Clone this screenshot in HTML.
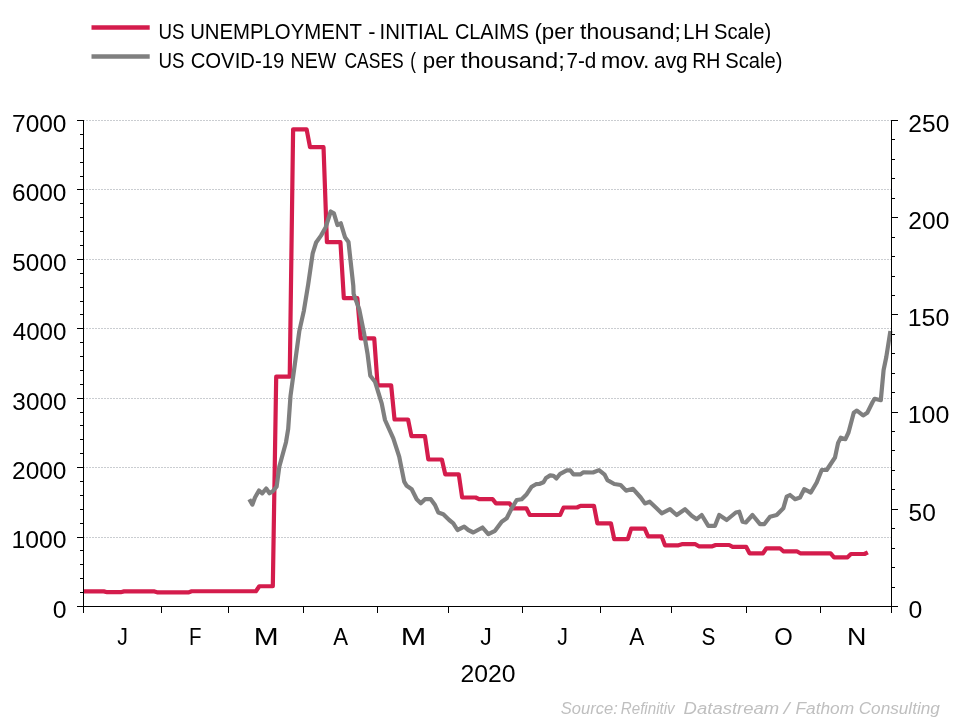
<!DOCTYPE html>
<html><head><meta charset="utf-8"><style>
html,body{margin:0;padding:0;background:#fff;width:960px;height:720px;overflow:hidden}
svg{display:block}
</style></head><body>
<svg width="960" height="720" viewBox="0 0 960 720">
<rect width="960" height="720" fill="#fff"/>
<line x1="83" y1="537.50" x2="891" y2="537.50" stroke="#CACDD1" stroke-width="1" stroke-dasharray="2 1"/>
<line x1="83" y1="467.50" x2="891" y2="467.50" stroke="#CACDD1" stroke-width="1" stroke-dasharray="2 1"/>
<line x1="83" y1="398.50" x2="891" y2="398.50" stroke="#CACDD1" stroke-width="1" stroke-dasharray="2 1"/>
<line x1="83" y1="328.50" x2="891" y2="328.50" stroke="#CACDD1" stroke-width="1" stroke-dasharray="2 1"/>
<line x1="83" y1="259.50" x2="891" y2="259.50" stroke="#CACDD1" stroke-width="1" stroke-dasharray="2 1"/>
<line x1="83" y1="189.50" x2="891" y2="189.50" stroke="#CACDD1" stroke-width="1" stroke-dasharray="2 1"/>
<line x1="83" y1="120.50" x2="891" y2="120.50" stroke="#CACDD1" stroke-width="1" stroke-dasharray="2 1"/>
<path d="M83.50,591.40 L103.78,591.40 L107.17,592.20 L120.69,592.20 L124.07,591.40 L154.50,591.40 L157.88,592.40 L188.30,592.40 L191.68,591.25 L255.92,591.25 L259.30,586.25 L272.82,586.25 L276.20,376.70 L289.73,376.70 L293.11,129.40 L306.63,129.40 L310.01,147.20 L323.53,147.20 L326.91,242.10 L340.44,242.10 L343.82,298.10 L357.34,298.10 L360.72,338.30 L374.24,338.30 L377.63,385.30 L391.15,385.30 L394.53,419.50 L408.05,419.50 L411.43,436.20 L424.96,436.20 L428.34,459.50 L441.86,459.50 L445.24,474.30 L458.76,474.30 L462.14,497.50 L475.67,497.50 L479.05,499.20 L492.57,499.20 L495.95,503.30 L509.47,503.30 L512.86,508.30 L526.38,508.30 L529.76,515.00 L560.19,515.00 L563.57,507.50 L577.09,507.50 L580.47,505.80 L593.99,505.80 L597.37,523.30 L610.90,523.30 L614.28,539.20 L627.80,539.20 L631.18,528.70 L644.71,528.70 L648.09,536.30 L661.61,536.30 L664.99,545.30 L678.51,545.30 L681.89,544.20 L695.42,544.20 L698.80,546.30 L712.32,546.30 L715.70,545.00 L729.22,545.00 L732.60,546.80 L746.13,546.80 L749.51,553.30 L763.03,553.30 L766.41,548.30 L779.94,548.30 L783.32,551.30 L796.84,551.30 L800.22,553.30 L830.65,553.30 L834.03,557.30 L847.55,557.30 L850.93,554.00 L864.45,554.00 L867.83,552.30" fill="none" stroke="#D41C4C" stroke-width="4.2" stroke-linejoin="round" stroke-linecap="butt"/>
<path d="M249.30,499.30 L252.40,504.60 L255.00,497.50 L259.00,490.50 L262.20,493.30 L266.20,488.50 L269.50,493.30 L273.00,491.00 L276.60,486.70 L279.30,466.70 L286.00,442.20 L288.20,428.90 L290.50,396.00 L296.00,355.60 L299.30,331.10 L303.80,311.10 L308.20,284.40 L312.70,253.30 L316.10,242.50 L321.00,235.60 L325.60,227.50 L330.70,211.50 L333.90,213.30 L337.40,225.00 L340.80,223.30 L345.00,237.20 L348.50,242.00 L353.30,285.80 L353.60,293.90 L359.20,309.20 L364.00,332.80 L367.50,353.60 L370.30,375.80 L375.00,381.70 L381.70,403.30 L385.00,420.00 L393.30,438.30 L399.20,456.70 L404.20,481.70 L406.70,485.80 L411.70,489.20 L416.70,499.20 L420.80,503.30 L425.00,499.20 L430.80,499.20 L435.00,505.00 L438.30,512.50 L443.30,514.20 L449.20,520.00 L453.30,523.30 L457.50,530.00 L464.20,526.70 L468.30,530.00 L473.30,532.50 L482.50,527.50 L488.30,534.20 L495.00,530.80 L501.70,521.70 L506.70,518.30 L511.70,508.30 L516.70,500.00 L521.70,499.20 L526.70,494.20 L531.70,486.70 L536.00,484.20 L539.30,484.00 L543.50,482.30 L546.00,478.00 L550.20,475.40 L553.50,475.80 L556.40,478.50 L560.20,473.80 L566.80,470.30 L570.20,470.30 L573.50,474.40 L580.20,474.40 L583.50,472.30 L593.00,472.50 L599.00,470.10 L604.60,474.60 L607.40,480.10 L614.30,484.00 L620.60,485.00 L626.10,490.60 L633.00,488.80 L640.70,497.50 L644.90,503.40 L649.70,501.70 L655.80,507.50 L661.70,513.30 L670.00,509.20 L676.70,515.00 L685.00,509.20 L691.70,515.80 L696.70,519.20 L701.70,515.00 L708.30,525.80 L715.00,525.80 L719.20,515.00 L726.70,520.00 L735.80,512.50 L739.20,511.70 L742.50,521.70 L745.80,522.50 L752.50,515.00 L760.00,524.20 L764.20,524.20 L770.00,516.70 L776.70,515.00 L783.30,508.30 L786.70,496.70 L790.00,495.00 L795.00,499.20 L800.00,497.50 L804.20,489.20 L810.80,492.50 L816.70,482.50 L821.70,470.00 L826.70,470.00 L835.00,457.50 L838.10,442.90 L840.80,437.70 L845.40,439.20 L848.50,432.50 L853.75,412.70 L856.90,410.60 L863.10,415.40 L867.30,412.70 L872.50,402.30 L874.60,398.75 L880.80,400.20 L883.60,370.00 L886.30,357.00 L890.40,331.00" fill="none" stroke="#7F7F7F" stroke-width="4.2" stroke-linejoin="round" stroke-linecap="butt"/>
<line x1="83.5" y1="120" x2="83.5" y2="613" stroke="#000" stroke-width="1"/>
<line x1="891.5" y1="120" x2="891.5" y2="613" stroke="#000" stroke-width="1"/>
<line x1="77" y1="606.5" x2="898" y2="606.5" stroke="#000" stroke-width="1"/>
<line x1="77" y1="606.5" x2="84" y2="606.5" stroke="#000" stroke-width="1"/>
<line x1="80" y1="592.5" x2="84" y2="592.5" stroke="#000" stroke-width="1"/>
<line x1="80" y1="578.5" x2="84" y2="578.5" stroke="#000" stroke-width="1"/>
<line x1="80" y1="564.5" x2="84" y2="564.5" stroke="#000" stroke-width="1"/>
<line x1="80" y1="550.5" x2="84" y2="550.5" stroke="#000" stroke-width="1"/>
<line x1="77" y1="537.5" x2="84" y2="537.5" stroke="#000" stroke-width="1"/>
<line x1="80" y1="523.5" x2="84" y2="523.5" stroke="#000" stroke-width="1"/>
<line x1="80" y1="509.5" x2="84" y2="509.5" stroke="#000" stroke-width="1"/>
<line x1="80" y1="495.5" x2="84" y2="495.5" stroke="#000" stroke-width="1"/>
<line x1="80" y1="481.5" x2="84" y2="481.5" stroke="#000" stroke-width="1"/>
<line x1="77" y1="467.5" x2="84" y2="467.5" stroke="#000" stroke-width="1"/>
<line x1="80" y1="453.5" x2="84" y2="453.5" stroke="#000" stroke-width="1"/>
<line x1="80" y1="439.5" x2="84" y2="439.5" stroke="#000" stroke-width="1"/>
<line x1="80" y1="425.5" x2="84" y2="425.5" stroke="#000" stroke-width="1"/>
<line x1="80" y1="412.5" x2="84" y2="412.5" stroke="#000" stroke-width="1"/>
<line x1="77" y1="398.5" x2="84" y2="398.5" stroke="#000" stroke-width="1"/>
<line x1="80" y1="384.5" x2="84" y2="384.5" stroke="#000" stroke-width="1"/>
<line x1="80" y1="370.5" x2="84" y2="370.5" stroke="#000" stroke-width="1"/>
<line x1="80" y1="356.5" x2="84" y2="356.5" stroke="#000" stroke-width="1"/>
<line x1="80" y1="342.5" x2="84" y2="342.5" stroke="#000" stroke-width="1"/>
<line x1="77" y1="328.5" x2="84" y2="328.5" stroke="#000" stroke-width="1"/>
<line x1="80" y1="314.5" x2="84" y2="314.5" stroke="#000" stroke-width="1"/>
<line x1="80" y1="301.5" x2="84" y2="301.5" stroke="#000" stroke-width="1"/>
<line x1="80" y1="287.5" x2="84" y2="287.5" stroke="#000" stroke-width="1"/>
<line x1="80" y1="273.5" x2="84" y2="273.5" stroke="#000" stroke-width="1"/>
<line x1="77" y1="259.5" x2="84" y2="259.5" stroke="#000" stroke-width="1"/>
<line x1="80" y1="245.5" x2="84" y2="245.5" stroke="#000" stroke-width="1"/>
<line x1="80" y1="231.5" x2="84" y2="231.5" stroke="#000" stroke-width="1"/>
<line x1="80" y1="217.5" x2="84" y2="217.5" stroke="#000" stroke-width="1"/>
<line x1="80" y1="203.5" x2="84" y2="203.5" stroke="#000" stroke-width="1"/>
<line x1="77" y1="189.5" x2="84" y2="189.5" stroke="#000" stroke-width="1"/>
<line x1="80" y1="176.5" x2="84" y2="176.5" stroke="#000" stroke-width="1"/>
<line x1="80" y1="162.5" x2="84" y2="162.5" stroke="#000" stroke-width="1"/>
<line x1="80" y1="148.5" x2="84" y2="148.5" stroke="#000" stroke-width="1"/>
<line x1="80" y1="134.5" x2="84" y2="134.5" stroke="#000" stroke-width="1"/>
<line x1="77" y1="120.5" x2="84" y2="120.5" stroke="#000" stroke-width="1"/>
<line x1="891" y1="606.5" x2="898" y2="606.5" stroke="#000" stroke-width="1"/>
<line x1="891" y1="587.5" x2="895" y2="587.5" stroke="#000" stroke-width="1"/>
<line x1="891" y1="567.5" x2="895" y2="567.5" stroke="#000" stroke-width="1"/>
<line x1="891" y1="548.5" x2="895" y2="548.5" stroke="#000" stroke-width="1"/>
<line x1="891" y1="528.5" x2="895" y2="528.5" stroke="#000" stroke-width="1"/>
<line x1="891" y1="509.5" x2="898" y2="509.5" stroke="#000" stroke-width="1"/>
<line x1="891" y1="489.5" x2="895" y2="489.5" stroke="#000" stroke-width="1"/>
<line x1="891" y1="470.5" x2="895" y2="470.5" stroke="#000" stroke-width="1"/>
<line x1="891" y1="450.5" x2="895" y2="450.5" stroke="#000" stroke-width="1"/>
<line x1="891" y1="431.5" x2="895" y2="431.5" stroke="#000" stroke-width="1"/>
<line x1="891" y1="412.5" x2="898" y2="412.5" stroke="#000" stroke-width="1"/>
<line x1="891" y1="392.5" x2="895" y2="392.5" stroke="#000" stroke-width="1"/>
<line x1="891" y1="373.5" x2="895" y2="373.5" stroke="#000" stroke-width="1"/>
<line x1="891" y1="353.5" x2="895" y2="353.5" stroke="#000" stroke-width="1"/>
<line x1="891" y1="334.5" x2="895" y2="334.5" stroke="#000" stroke-width="1"/>
<line x1="891" y1="314.5" x2="898" y2="314.5" stroke="#000" stroke-width="1"/>
<line x1="891" y1="295.5" x2="895" y2="295.5" stroke="#000" stroke-width="1"/>
<line x1="891" y1="276.5" x2="895" y2="276.5" stroke="#000" stroke-width="1"/>
<line x1="891" y1="256.5" x2="895" y2="256.5" stroke="#000" stroke-width="1"/>
<line x1="891" y1="237.5" x2="895" y2="237.5" stroke="#000" stroke-width="1"/>
<line x1="891" y1="217.5" x2="898" y2="217.5" stroke="#000" stroke-width="1"/>
<line x1="891" y1="198.5" x2="895" y2="198.5" stroke="#000" stroke-width="1"/>
<line x1="891" y1="178.5" x2="895" y2="178.5" stroke="#000" stroke-width="1"/>
<line x1="891" y1="159.5" x2="895" y2="159.5" stroke="#000" stroke-width="1"/>
<line x1="891" y1="139.5" x2="895" y2="139.5" stroke="#000" stroke-width="1"/>
<line x1="891" y1="120.5" x2="898" y2="120.5" stroke="#000" stroke-width="1"/>
<line x1="161.5" y1="606" x2="161.5" y2="613" stroke="#000" stroke-width="1"/>
<line x1="228.5" y1="606" x2="228.5" y2="613" stroke="#000" stroke-width="1"/>
<line x1="303.5" y1="606" x2="303.5" y2="613" stroke="#000" stroke-width="1"/>
<line x1="377.5" y1="606" x2="377.5" y2="613" stroke="#000" stroke-width="1"/>
<line x1="448.5" y1="606" x2="448.5" y2="613" stroke="#000" stroke-width="1"/>
<line x1="522.5" y1="606" x2="522.5" y2="613" stroke="#000" stroke-width="1"/>
<line x1="600.5" y1="606" x2="600.5" y2="613" stroke="#000" stroke-width="1"/>
<line x1="671.5" y1="606" x2="671.5" y2="613" stroke="#000" stroke-width="1"/>
<line x1="746.5" y1="606" x2="746.5" y2="613" stroke="#000" stroke-width="1"/>
<line x1="820.5" y1="606" x2="820.5" y2="613" stroke="#000" stroke-width="1"/>
<line x1="91.5" y1="27.4" x2="149.7" y2="27.4" stroke="#D41C4C" stroke-width="4.5"/>
<line x1="91.5" y1="56.5" x2="149.7" y2="56.5" stroke="#7F7F7F" stroke-width="4.5"/>
<g style="filter:grayscale(1)">
<text x="52.68" y="617.80" font-family="Liberation Sans, sans-serif" font-size="23.5" textLength="13.79" lengthAdjust="spacingAndGlyphs">0</text>
<text x="11.42" y="548.37" font-family="Liberation Sans, sans-serif" font-size="23.5" textLength="55.05" lengthAdjust="spacingAndGlyphs">1000</text>
<text x="12.07" y="478.94" font-family="Liberation Sans, sans-serif" font-size="23.5" textLength="54.38" lengthAdjust="spacingAndGlyphs">2000</text>
<text x="12.37" y="409.51" font-family="Liberation Sans, sans-serif" font-size="23.5" textLength="54.08" lengthAdjust="spacingAndGlyphs">3000</text>
<text x="12.75" y="340.09" font-family="Liberation Sans, sans-serif" font-size="23.5" textLength="53.70" lengthAdjust="spacingAndGlyphs">4000</text>
<text x="12.33" y="270.66" font-family="Liberation Sans, sans-serif" font-size="23.5" textLength="54.12" lengthAdjust="spacingAndGlyphs">5000</text>
<text x="12.06" y="201.23" font-family="Liberation Sans, sans-serif" font-size="23.5" textLength="54.40" lengthAdjust="spacingAndGlyphs">6000</text>
<text x="12.05" y="131.80" font-family="Liberation Sans, sans-serif" font-size="23.5" textLength="54.41" lengthAdjust="spacingAndGlyphs">7000</text>
<text x="908.63" y="617.80" font-family="Liberation Sans, sans-serif" font-size="23.5" textLength="13.79" lengthAdjust="spacingAndGlyphs">0</text>
<text x="908.62" y="520.60" font-family="Liberation Sans, sans-serif" font-size="23.5" textLength="27.24" lengthAdjust="spacingAndGlyphs">50</text>
<text x="907.70" y="423.40" font-family="Liberation Sans, sans-serif" font-size="23.5" textLength="41.62" lengthAdjust="spacingAndGlyphs">100</text>
<text x="907.70" y="326.20" font-family="Liberation Sans, sans-serif" font-size="23.5" textLength="41.62" lengthAdjust="spacingAndGlyphs">150</text>
<text x="908.37" y="229.00" font-family="Liberation Sans, sans-serif" font-size="23.5" textLength="40.94" lengthAdjust="spacingAndGlyphs">200</text>
<text x="908.37" y="131.80" font-family="Liberation Sans, sans-serif" font-size="23.5" textLength="40.94" lengthAdjust="spacingAndGlyphs">250</text>
<text x="117.17" y="644.5" font-family="Liberation Sans, sans-serif" font-size="23.5" textLength="10.67" lengthAdjust="spacingAndGlyphs">J</text>
<text x="189.07" y="644.5" font-family="Liberation Sans, sans-serif" font-size="23.5" textLength="12.50" lengthAdjust="spacingAndGlyphs">F</text>
<text x="253.80" y="644.5" font-family="Liberation Sans, sans-serif" font-size="23.5" textLength="24.91" lengthAdjust="spacingAndGlyphs">M</text>
<text x="333.21" y="644.5" font-family="Liberation Sans, sans-serif" font-size="23.5" textLength="14.84" lengthAdjust="spacingAndGlyphs">A</text>
<text x="400.74" y="644.5" font-family="Liberation Sans, sans-serif" font-size="23.5" textLength="25.53" lengthAdjust="spacingAndGlyphs">M</text>
<text x="480.14" y="644.5" font-family="Liberation Sans, sans-serif" font-size="23.5" textLength="11.58" lengthAdjust="spacingAndGlyphs">J</text>
<text x="557.17" y="644.5" font-family="Liberation Sans, sans-serif" font-size="23.5" textLength="10.67" lengthAdjust="spacingAndGlyphs">J</text>
<text x="629.21" y="644.5" font-family="Liberation Sans, sans-serif" font-size="23.5" textLength="15.09" lengthAdjust="spacingAndGlyphs">A</text>
<text x="701.55" y="644.5" font-family="Liberation Sans, sans-serif" font-size="23.5" textLength="13.90" lengthAdjust="spacingAndGlyphs">S</text>
<text x="774.37" y="644.5" font-family="Liberation Sans, sans-serif" font-size="23.5" textLength="18.52" lengthAdjust="spacingAndGlyphs">O</text>
<text x="847.05" y="644.5" font-family="Liberation Sans, sans-serif" font-size="23.5" textLength="19.39" lengthAdjust="spacingAndGlyphs">N</text>
<text x="460.46" y="682" font-family="Liberation Sans, sans-serif" font-size="23.5" textLength="55.01" lengthAdjust="spacingAndGlyphs">2020</text>
<text x="158.56" y="38.8" font-family="Liberation Sans, sans-serif" font-size="22" textLength="26.00" lengthAdjust="spacingAndGlyphs">US</text>
<text x="190.13" y="38.8" font-family="Liberation Sans, sans-serif" font-size="22" textLength="171.74" lengthAdjust="spacingAndGlyphs">UNEMPLOYMENT</text>
<text x="368.24" y="38.8" font-family="Liberation Sans, sans-serif" font-size="22" textLength="7.23" lengthAdjust="spacingAndGlyphs">-</text>
<text x="379.52" y="38.8" font-family="Liberation Sans, sans-serif" font-size="22" textLength="69.06" lengthAdjust="spacingAndGlyphs">INITIAL</text>
<text x="454.89" y="38.8" font-family="Liberation Sans, sans-serif" font-size="22" textLength="74.23" lengthAdjust="spacingAndGlyphs">CLAIMS</text>
<text x="534.42" y="38.8" font-family="Liberation Sans, sans-serif" font-size="22" textLength="39.71" lengthAdjust="spacingAndGlyphs">(per</text>
<text x="580.05" y="38.8" font-family="Liberation Sans, sans-serif" font-size="22" textLength="100.76" lengthAdjust="spacingAndGlyphs">thousand;</text>
<text x="683.34" y="38.8" font-family="Liberation Sans, sans-serif" font-size="22" textLength="25.80" lengthAdjust="spacingAndGlyphs">LH</text>
<text x="714.08" y="38.8" font-family="Liberation Sans, sans-serif" font-size="22" textLength="57.17" lengthAdjust="spacingAndGlyphs">Scale)</text>
<text x="158.56" y="67.8" font-family="Liberation Sans, sans-serif" font-size="22" textLength="26.00" lengthAdjust="spacingAndGlyphs">US</text>
<text x="190.67" y="67.8" font-family="Liberation Sans, sans-serif" font-size="22" textLength="93.69" lengthAdjust="spacingAndGlyphs">COVID-19</text>
<text x="290.59" y="67.8" font-family="Liberation Sans, sans-serif" font-size="22" textLength="45.67" lengthAdjust="spacingAndGlyphs">NEW</text>
<text x="344.51" y="67.8" font-family="Liberation Sans, sans-serif" font-size="22" textLength="59.19" lengthAdjust="spacingAndGlyphs">CASES</text>
<text x="410.19" y="67.8" font-family="Liberation Sans, sans-serif" font-size="22" textLength="5.71" lengthAdjust="spacingAndGlyphs">(</text>
<text x="422.76" y="67.8" font-family="Liberation Sans, sans-serif" font-size="22" textLength="32.21" lengthAdjust="spacingAndGlyphs">per</text>
<text x="460.89" y="67.8" font-family="Liberation Sans, sans-serif" font-size="22" textLength="103.83" lengthAdjust="spacingAndGlyphs">thousand;</text>
<text x="566.44" y="67.8" font-family="Liberation Sans, sans-serif" font-size="22" textLength="29.89" lengthAdjust="spacingAndGlyphs">7-d</text>
<text x="601.01" y="67.8" font-family="Liberation Sans, sans-serif" font-size="22" textLength="48.53" lengthAdjust="spacingAndGlyphs">mov.</text>
<text x="654.12" y="67.8" font-family="Liberation Sans, sans-serif" font-size="22" textLength="33.47" lengthAdjust="spacingAndGlyphs">avg</text>
<text x="692.15" y="67.8" font-family="Liberation Sans, sans-serif" font-size="22" textLength="28.19" lengthAdjust="spacingAndGlyphs">RH</text>
<text x="725.33" y="67.8" font-family="Liberation Sans, sans-serif" font-size="22" textLength="57.17" lengthAdjust="spacingAndGlyphs">Scale)</text>
<text x="560.78" y="713.5" font-family="Liberation Sans, sans-serif" font-style="italic" font-size="16" fill="#BFBFBF" textLength="56.98" lengthAdjust="spacingAndGlyphs">Source:</text>
<text x="620.78" y="713.5" font-family="Liberation Sans, sans-serif" font-style="italic" font-size="16" fill="#BFBFBF" textLength="53.89" lengthAdjust="spacingAndGlyphs">Refinitiv</text>
<text x="683.63" y="713.5" font-family="Liberation Sans, sans-serif" font-style="italic" font-size="16" fill="#BFBFBF" textLength="95.53" lengthAdjust="spacingAndGlyphs">Datastream</text>
<text x="783.68" y="713.5" font-family="Liberation Sans, sans-serif" font-style="italic" font-size="16" fill="#BFBFBF" textLength="5.78" lengthAdjust="spacingAndGlyphs">/</text>
<text x="795.47" y="713.5" font-family="Liberation Sans, sans-serif" font-style="italic" font-size="16" fill="#BFBFBF" textLength="58.63" lengthAdjust="spacingAndGlyphs">Fathom</text>
<text x="858.65" y="713.5" font-family="Liberation Sans, sans-serif" font-style="italic" font-size="16" fill="#BFBFBF" textLength="81.30" lengthAdjust="spacingAndGlyphs">Consulting</text>
</g>
</svg>
</body></html>
